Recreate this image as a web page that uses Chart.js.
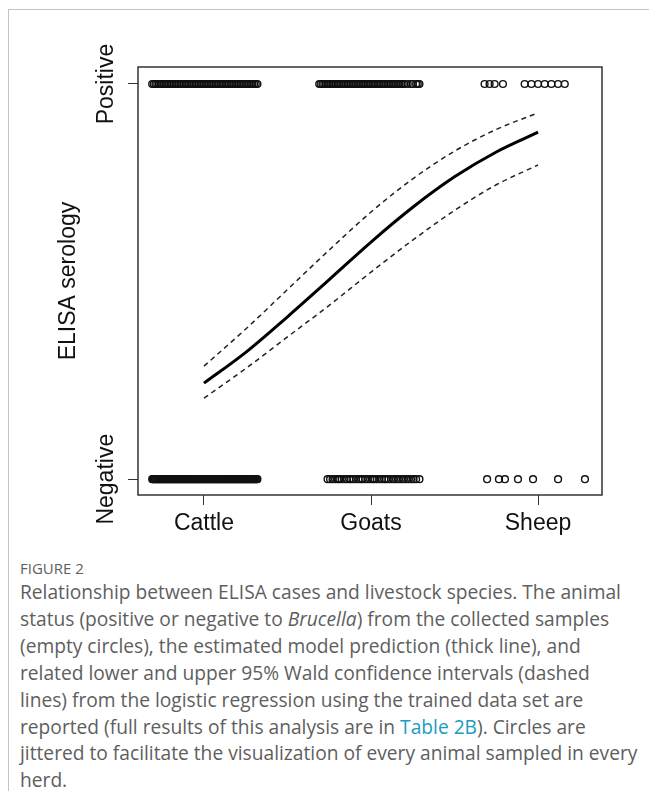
<!DOCTYPE html>
<html>
<head>
<meta charset="utf-8">
<script src="https://cdn.jsdelivr.net/npm/chart.js@4.4.1/dist/chart.umd.min.js"></script>
<style>
  html, body { margin: 0; padding: 0; background: #fff; }
  body { width: 649px; height: 791px; position: relative; overflow: hidden; }
  #frame { position: absolute; left: 8px; top: 9px; right: 0; bottom: 0;
           border-left: 1px solid #c4c4c4; border-top: 1px solid #c4c4c4; }
  #wrap { position: absolute; left: 0; top: 0; width: 649px; height: 545px; }
  #caption { position: absolute; left: 20px; top: 558px; white-space: nowrap;
             font-family: 'Open Sans', sans-serif; color: #5e5e5e; }
  #caption .fig { font-size: 15px; line-height: 20px; margin-bottom: 1px; }
  #caption p { margin: 0; font-size: 19.2px; line-height: 26.9px; }
  #caption a { color: #1a9cbf; text-decoration: none; }
</style>
</head>
<body>
<div id="frame"></div>
<div id="wrap"><canvas id="chart" width="649" height="545"></canvas></div>
<div id="caption">
  <div class="fig">FIGURE 2</div>
  <p>Relationship between ELISA cases and livestock species. The animal<br>
  status (positive or negative to <i>Brucella</i>) from the collected samples<br>
  (empty circles), the estimated model prediction (thick line), and<br>
  related lower and upper 95% Wald confidence intervals (dashed<br>
  lines) from the logistic regression using the trained data set are<br>
  reported (full results of this analysis are in <a>Table 2B</a>). Circles are<br>
  jittered to facilitate the visualization of every animal sampled in every<br>
  herd.</p>
</div>
<script>
// categories and axis labels
const species = ['Cattle', 'Goats', 'Sheep'];
const statusLabels = ['Negative', 'Positive'];

// jittered x positions of the sampled animals (category index units)
const cattlePosX = [-0.31, -0.30, -0.29, -0.28, -0.27, -0.26, -0.25, -0.24, -0.23, -0.22, -0.21, -0.20,
    -0.19, -0.18, -0.17, -0.16, -0.15, -0.14, -0.13, -0.12, -0.11, -0.10, -0.09, -0.08, -0.07, -0.06,
    -0.05, -0.04, -0.03, -0.02, -0.01, 0.00, 0.01, 0.02, 0.03, 0.04, 0.05, 0.06, 0.07, 0.08, 0.09, 0.10,
    0.11, 0.12, 0.13, 0.14, 0.15, 0.16, 0.17, 0.18, 0.19, 0.20, 0.21, 0.22, 0.23, 0.24, 0.25, 0.26,
    0.27, 0.28, 0.29, 0.30, 0.31, 0.32];
const cattleNegX = [-0.310, -0.305, -0.300, -0.295, -0.290, -0.285, -0.280, -0.275, -0.270, -0.265,
    -0.260, -0.255, -0.250, -0.245, -0.240, -0.235, -0.230, -0.225, -0.220, -0.215, -0.210, -0.205,
    -0.200, -0.195, -0.190, -0.185, -0.180, -0.175, -0.170, -0.165, -0.160, -0.155, -0.150, -0.145,
    -0.140, -0.135, -0.130, -0.125, -0.120, -0.115, -0.110, -0.105, -0.100, -0.095, -0.090, -0.085,
    -0.080, -0.075, -0.070, -0.065, -0.060, -0.055, -0.050, -0.045, -0.040, -0.035, -0.030, -0.025,
    -0.020, -0.015, -0.010, -0.005, 0.000, 0.005, 0.010, 0.015, 0.020, 0.025, 0.030, 0.035, 0.040,
    0.045, 0.050, 0.055, 0.060, 0.065, 0.070, 0.075, 0.080, 0.085, 0.090, 0.095, 0.100, 0.105, 0.110,
    0.115, 0.120, 0.125, 0.130, 0.135, 0.140, 0.145, 0.150, 0.155, 0.160, 0.165, 0.170, 0.175, 0.180,
    0.185, 0.190, 0.195, 0.200, 0.205, 0.210, 0.215, 0.220, 0.225, 0.230, 0.235, 0.240, 0.245, 0.250,
    0.255, 0.260, 0.265, 0.270, 0.275, 0.280, 0.285, 0.290, 0.295, 0.300, 0.305, 0.310, 0.315, 0.320];
const goatPosX = [0.69, 0.70, 0.71, 0.72, 0.73, 0.74, 0.75, 0.76, 0.77, 0.78, 0.79, 0.80, 0.81, 0.82,
    0.83, 0.84, 0.85, 0.86, 0.87, 0.88, 0.89, 0.90, 0.91, 0.92, 0.93, 0.94, 0.95, 0.96, 0.97, 0.98,
    0.99, 1.00, 1.01, 1.02, 1.03, 1.04, 1.05, 1.06, 1.07, 1.08, 1.09, 1.10, 1.11, 1.12, 1.13, 1.14,
    1.15, 1.16, 1.17, 1.18, 1.19, 1.20, 1.22, 1.24, 1.25, 1.27, 1.28, 1.29];
const goatNegX = [0.74, 0.755, 0.77, 0.785, 0.80, 0.81, 0.825, 0.84, 0.855, 0.87, 0.88, 0.895, 0.91,
    0.925, 0.94, 0.95, 0.965, 0.98, 0.995, 1.01, 1.02, 1.035, 1.05, 1.065, 1.08, 1.09, 1.105, 1.12,
    1.135, 1.15, 1.165, 1.18, 1.195, 1.21, 1.225, 1.24, 1.255, 1.27, 1.29];
const sheepPosX = [1.68, 1.71, 1.74, 1.79, 1.92, 1.96, 2.00, 2.04, 2.08, 2.12, 2.16];
const sheepNegX = [1.695, 1.766, 1.802, 1.880, 1.970, 2.120, 2.281];

// logistic model prediction and 95% Wald bounds
const fitX = [0, 0.25, 0.5, 0.75, 1, 1.25, 1.5, 1.75, 2];
const fitMid = [0.243, 0.321, 0.411, 0.505, 0.600, 0.688, 0.765, 0.828, 0.878];
const fitUpper = [0.286, 0.380, 0.480, 0.580, 0.676, 0.760, 0.830, 0.885, 0.927];
const fitLower = [0.205, 0.280, 0.360, 0.440, 0.524, 0.605, 0.680, 0.745, 0.795];

const FONT = '"Liberation Sans", Arial, sans-serif';

function pts(xs, y) {
    return xs.map(x => ({ x: x, y: y }));
}
function curve(ys) {
    return fitX.map((x, i) => ({ x: x, y: ys[i] }));
}

const circles = {
    type: 'scatter',
    pointStyle: 'circle',
    pointRadius: 3.4,
    borderWidth: 1.4,
    borderColor: '#111',
    backgroundColor: 'rgba(0,0,0,0)'
};

// box round the plot region and the rotated y labels
const boxPlugin = {
    id: 'boxPlugin',
    afterDatasetsDraw(chart) {
        const { ctx, chartArea: a } = chart;
        ctx.save();
        ctx.strokeStyle = '#333';
        ctx.lineWidth = 1.5;
        ctx.strokeRect(a.left, a.top, a.right - a.left, a.bottom - a.top);
        ctx.restore();
    },
    afterDraw(chart) {
        const { ctx, chartArea: a } = chart;
        const y = chart.scales.y;
        ctx.save();
        ctx.fillStyle = '#111';
        ctx.font = '23px ' + FONT;
        ctx.textAlign = 'center';
        ctx.textBaseline = 'middle';
        statusLabels.forEach((t, i) => {
            ctx.save();
            ctx.translate(a.left - 31, y.getPixelForValue(i));
            ctx.rotate(-Math.PI / 2);
            ctx.fillText(t, 0, 0);
            ctx.restore();
        });
        ctx.translate(a.left - 69, (a.top + a.bottom) / 2);
        ctx.rotate(-Math.PI / 2);
        ctx.fillText('ELISA serology', 0, 0);
        ctx.restore();
    }
};

new Chart(document.getElementById('chart'), {
    type: 'scatter',
    data: {
        datasets: [
            { ...circles, data: pts(cattlePosX, 1) },
            { ...circles, data: pts(cattleNegX, 0) },
            { ...circles, data: pts(goatPosX, 1) },
            { ...circles, data: pts(goatNegX, 0) },
            { ...circles, data: pts(sheepPosX, 1) },
            { ...circles, data: pts(sheepNegX, 0) },
            {
                type: 'scatter', showLine: true, data: curve(fitMid),
                borderColor: '#000', borderWidth: 3, pointRadius: 0,
                cubicInterpolationMode: 'monotone', fill: false
            },
            {
                type: 'scatter', showLine: true, data: curve(fitUpper),
                borderColor: '#222', borderWidth: 1.5, borderDash: [5, 4], pointRadius: 0,
                cubicInterpolationMode: 'monotone', fill: false
            },
            {
                type: 'scatter', showLine: true, data: curve(fitLower),
                borderColor: '#222', borderWidth: 1.5, borderDash: [5, 4], pointRadius: 0,
                cubicInterpolationMode: 'monotone', fill: false
            }
        ]
    },
    options: {
        responsive: false,
        animation: false,
        events: [],
        layout: { padding: { top: 67, right: 47, left: 0, bottom: 0 } },
        plugins: {
            legend: { display: false },
            tooltip: { enabled: false }
        },
        scales: {
            x: {
                type: 'linear',
                min: -0.395,
                max: 2.383,
                afterBuildTicks: s => { s.ticks = species.map((_, i) => ({ value: i })); },
                afterFit: s => { s.height = 50; },
                grid: { drawOnChartArea: false, drawTicks: true, tickLength: 10, color: '#333', lineWidth: 1 },
                border: { display: false },
                ticks: {
                    callback: v => species[v],
                    font: { family: FONT, size: 23 },
                    color: '#111',
                    padding: 5,
                    maxRotation: 0,
                    autoSkip: false
                }
            },
            y: {
                type: 'linear',
                min: -0.04,
                max: 1.043,
                afterBuildTicks: s => { s.ticks = statusLabels.map((_, i) => ({ value: i })); },
                afterFit: s => { s.width = 138; },
                grid: { drawOnChartArea: false, drawTicks: true, tickLength: 10, color: '#333', lineWidth: 1 },
                border: { display: false },
                ticks: { display: false }
            }
        }
    },
    plugins: [boxPlugin]
});
</script>
</body>
</html>
